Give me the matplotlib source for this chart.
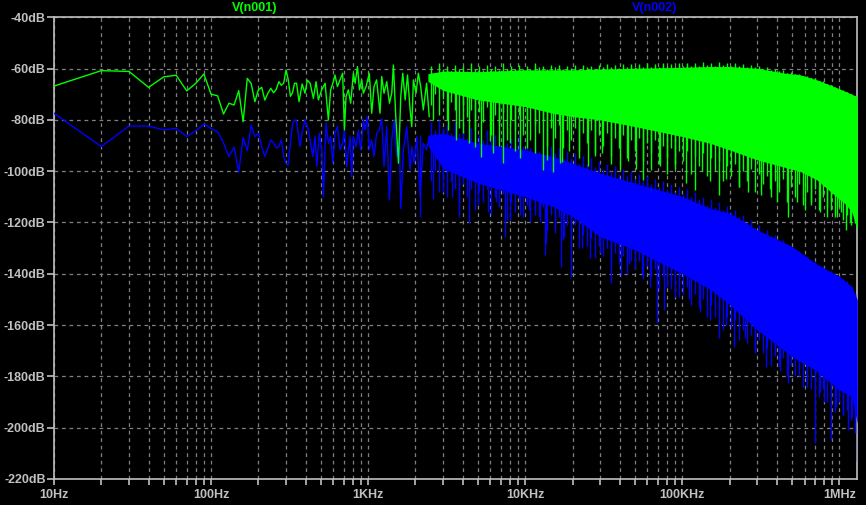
import numpy as np
import matplotlib
matplotlib.use("Agg")
import matplotlib.pyplot as plt
from matplotlib.ticker import FixedLocator, NullFormatter

# ---------------- data ----------------
# V(n001) (green) - individual trace points, low frequency part
g_line_f = [10, 20, 30, 40, 50, 60, 70, 80, 90, 100, 110, 120, 130, 140, 150, 160, 170, 180,
            190, 200, 210, 220, 230, 240, 250, 260, 270, 280, 290, 300, 310, 320, 330, 340,
            350, 363, 380, 396, 410,
            427, 448, 466, 482, 506, 532, 558, 577, 600, 615, 637, 662, 688, 706, 723, 748,
            774, 805, 826, 855, 880, 910, 932, 970, 1017, 1053, 1090, 1132, 1190, 1220, 1262,
            1313, 1366, 1413, 1448, 1499, 1559, 1613, 1661, 1720, 1780, 1850, 1895, 1941,
            2017, 2087, 2159, 2244, 2355, 2448]
g_line_db = [-66.8, -60.8, -61.1, -67.3, -63.2, -62.6, -68.7, -65.7, -62.1, -70.0, -70.6, -77.7,
             -73.5, -74.2, -68.6, -80.7, -63.8, -65.8, -72.9, -68.3, -67.3, -72.3, -69.6, -67.7,
             -69.4, -68.1, -65.1, -66.5, -65.7, -60.5, -64.4, -70.8, -69.4, -65.7,
             -65.7, -72.9, -66.0, -69.6, -64.5,
             -65.7, -71.6, -65.1, -72.2, -68.3, -65.7, -80.0, -68.3, -65.1, -62.5, -67.0, -64.4,
             -61.8, -83.9, -70.9, -68.3, -73.5, -61.8, -65.7, -59.2, -68.3, -64.4, -69.6, -67.0,
             -61.8, -77.4, -67.0, -64.4, -77.4, -63.1, -69.6, -65.1, -73.5, -69.6, -58.6, -78.7,
             -96.9, -70.9, -61.8, -72.2, -62.5, -76.1, -82.6, -64.4, -69.6, -61.8, -67.0, -76.1,
             -65.7, -78.7]

# V(n002) (blue) - individual trace points, low frequency part
b_line_f = [10, 20, 30, 40, 50, 60, 70, 80, 90, 100, 110, 120, 130, 140, 150, 160, 170, 180,
            190, 200, 210, 220, 230, 240, 250, 260, 270, 280, 290, 300, 310, 320, 330, 340,
            350, 368, 380, 396, 416,
            427, 444, 459, 471, 489, 506, 519, 539, 558, 577, 595, 615, 637, 662, 688, 706, 731,
            749, 767, 786, 805, 838, 866, 897, 932, 956, 989, 1017, 1053, 1090, 1132, 1178,
            1220, 1262, 1313, 1366, 1413, 1463, 1520, 1580, 1613, 1677, 1760, 1850, 1895, 1963,
            2041, 2141, 2244, 2355, 2448]
b_line_db = [-77.4, -90.4, -82.4, -82.4, -83.9, -83.3, -86.5, -84.2, -81.6, -83.3, -84.6, -89.0,
             -94.3, -90.6, -100.5, -86.8, -92.0, -82.0, -86.5, -85.2, -90.4, -94.3, -91.0, -87.8,
             -89.0, -91.0, -90.4, -87.8, -94.3, -97.0, -97.6, -89.0, -81.6, -80.0,
             -80.4, -90.4, -85.0, -80.0, -83.9,
             -87.8, -94.3, -86.5, -98.2, -85.2, -91.7, -109.9, -81.3, -89.1, -86.5, -96.9, -85.2,
             -82.6, -91.7, -89.1, -83.9, -98.2, -91.7, -86.5, -102.1, -86.5, -90.4, -83.9, -91.7,
             -80.0, -83.9, -78.7, -91.7, -87.8, -94.3, -85.2, -83.9, -79.4, -98.2, -82.6, -111.2,
             -87.8, -80.0, -94.3, -86.5, -114.5, -91.7, -82.6, -99.5, -90.4, -96.9, -86.5, -109.9,
             -89.1, -91.7, -86.5]

# dense high-frequency part: top edge and lower edge of the solid band
g_band_f = [2.4e3, 3e3, 5e3, 1e4, 1.5e4, 2e4, 3e4, 5e4, 1e5, 1.5e5, 2e5, 3e5, 4.5e5, 5.6e5,
            7.2e5, 9.2e5, 1.1e6, 1.2e6, 1.3e6]
g_band_top = [-62.0, -61.0, -61.2, -60.5, -60.5, -60.5, -60.2, -59.9, -59.5, -59.2, -59.2, -59.9,
              -61.8, -62.4, -64.4, -67.0, -69.0, -70.0, -71.0]
g_band_low = [-65.0, -68.5, -72.2, -74.8, -77.4, -78.7, -80.0, -82.6, -86.5, -89.1, -91.7, -95.6,
              -98.5, -100.0, -103.4, -109.0, -113.0, -116.0, -123.0]

b_band_f = [2.4e3, 3e3, 5e3, 1e4, 1.5e4, 2e4, 3e4, 5e4, 1e5, 1.5e5, 2e5, 3e5, 5e5, 7e5, 1e6,
            1.2e6, 1.3e6]
b_band_top = [-86.0, -85.2, -89.1, -91.7, -94.3, -96.9, -100.8, -104.7, -109.9, -114.5, -116.4,
              -122.9, -129.4, -135.9, -141.1, -145.0, -150.2]
b_band_low = [-90.0, -99.0, -104.7, -110.0, -113.8, -117.7, -125.5, -130.7, -140.0, -146.0,
              -152.0, -161.9, -172.3, -177.5, -185.3, -187.9, -198.3]

# deep downward spikes below the dense band
g_spike_f = [2.6e3, 3.2e3, 3.6e3, 4.04e3, 4.4e3, 4.8e3, 5.2e3, 6.0e3, 6.2e3, 6.8e3, 7.2e3, 8.0e3,
             8.6e3, 9.2e3, 1.03e4, 1.15e4, 1.3e4, 1.38e4, 1.5e4, 1.67e4, 1.71e4, 1.9e4, 2.2e4,
             2.5e4, 2.8e4, 3.08e4, 3.5e4, 4.0e4, 4.5e4, 5.1e4, 5.65e4, 6.3e4, 7.25e4, 8.0e4,
             9.0e4, 1.06e5, 1.2e5, 1.33e5, 1.5e5, 1.71e5, 1.9e5, 2.3e5, 2.6e5, 3.16e5, 3.6e5,
             4.0e5, 4.7e5, 5.4e5, 6.0e5, 6.6e5, 7.5e5, 8.3e5, 8.8e5, 9.6e5, 1.02e6, 1.1e6,
             1.17e6, 1.25e6]
g_spike_db = [-80, -84, -88, -85.2, -89, -90.4, -94.3, -88, -93, -90, -96.9, -89, -92, -95, -91,
              -93, -99.5, -95.6, -100.2, -96.9, -96.3, -92, -95, -98, -94, -93, -97, -99, -96,
              -99, -103.4, -99.5, -98, -101, -97, -104.7, -107.3, -100, -104, -109.3, -103, -106,
              -108, -109.3, -107, -112, -117.7, -112, -115, -113, -116, -117.7, -115, -118, -116,
              -123, -120, -118]

b_spike_f = [2.14e3, 2.6e3, 3.0e3, 3.4e3, 3.8e3, 4.4e3, 5.0e3, 5.8e3, 6.5e3, 7.4e3, 8.0e3, 9.3e3,
             1.05e4, 1.15e4, 1.25e4, 1.34e4, 1.36e4, 1.55e4, 1.7e4, 1.77e4, 1.95e4, 2.3e4, 2.6e4,
             3.0e4, 3.5e4, 4.1e4, 4.6e4, 5.5e4, 6.2e4, 6.9e4, 7.7e4, 8.5e4, 9.5e4, 1.1e5, 1.3e5,
             1.5e5, 1.71e5, 1.9e5, 2.13e5, 2.5e5, 2.9e5, 3.4e5, 3.9e5, 4.2e5, 4.7e5, 5.5e5,
             6.2e5, 7.0e5, 7.5e5, 8.0e5, 8.8e5, 9.5e5, 1.05e6, 1.14e6, 1.2e6, 1.29e6]
b_spike_db = [-117.7, -111, -108, -110, -117.7, -120.3, -113, -116, -112, -125.5, -119, -117,
              -115, -117, -120, -132.7, -128.1, -124, -137.2, -125.5, -141.1, -130, -134, -132,
              -143.7, -141, -136, -140, -145, -159.3, -154, -146, -149, -150, -155, -158, -165.1,
              -160, -168.4, -165, -170, -176.2, -172, -178, -182.7, -180, -184, -206.1, -186,
              -190, -204.8, -192, -195, -200.9, -196, -213]

# hair-like texture: frequencies (kHz) of the short lines along the band edges
tex_f_khz = [2.5, 2.65, 2.81, 2.98, 3.16, 3.35, 3.55, 3.77, 4.0, 4.24, 4.5, 4.77, 5.06, 5.36,
             5.69, 6.03, 6.4, 6.78, 7.19, 7.63, 8.09, 8.58, 9.1, 9.65, 10.2, 10.8, 11.5, 12.2,
             12.9, 13.7, 14.5, 15.4, 16.3, 17.3, 18.4, 19.5, 20.6, 21.9, 23.2, 24.6, 26.1, 27.7,
             29.4, 31.1, 33.0, 35.0, 37.1, 39.4, 41.8, 44.3, 47.0, 49.8, 52.8, 56.0, 59.4, 63.0,
             66.8, 70.8, 75.1, 79.6, 84.5, 89.6, 95.0, 100.7, 106.8, 113, 120, 127, 135, 143,
             152, 161, 171, 181, 192, 204, 216, 229, 243, 258, 273, 290, 307, 326, 346, 366,
             389, 412, 437, 463, 491, 521, 553, 586, 621, 659, 699, 741, 786, 833, 884, 937,
             994, 1054, 1118, 1185, 1257]
g_tex_low = [-74, -70, -78, -72, -80, -73, -76, -83, -74, -79, -76, -84, -77, -81, -75, -86, -78,
             -82, -77, -88, -80, -84, -78, -86, -80, -88, -82, -85, -80, -90, -83, -87, -82, -91,
             -84, -88, -83, -92, -85, -89, -84, -93, -86, -90, -85, -94, -87, -91, -86, -95, -88,
             -92, -87, -96, -89, -93, -88, -97, -90, -95, -91, -99, -92, -96, -92, -101, -94,
             -98, -93, -102, -95, -100, -96, -104, -98, -102, -97, -106, -100, -104, -99, -108,
             -101, -105, -102, -110, -104, -108, -103, -112, -106, -110, -105, -113, -108, -112,
             -107, -115, -110, -114, -112, -118, -114, -119, -117, -121, -120]
g_tex_top = [-59, -62, -58, -60, -59, -61, -58.5, -60, -59, -61, -58, -60, -59, -60.5, -58.5, -60,
             -59, -60.5, -58, -60, -59, -60, -58.5, -60, -59, -60, -58, -59.5, -58.8, -60, -58.5,
             -59.5, -58.5, -60, -59, -59.8, -58.7, -60, -58.5, -59.5, -58.8, -60, -58.5, -59.5,
             -58.3, -59.5, -58.5, -59.8, -58.4, -59.5, -58.2, -59.3, -58.3, -59.5, -58.0, -59.2,
             -58.3, -59.5, -58.0, -59.0, -58.2, -59.3, -57.8, -59.0, -58.0, -59.0, -57.8, -58.8,
             -57.6, -58.6, -57.8, -58.8, -57.5, -58.6, -57.8, -58.8, -57.9, -59.0, -58.3, -59.2,
             -58.6, -59.5, -58.8, -60.0, -59.5, -60.5, -60.0, -61.0, -60.6, -61.6, -61.3, -62.2,
             -62.0, -63.0, -62.8, -63.8, -63.8, -65.0, -65.0, -66.0, -66.3, -67.5, -67.8, -68.8,
             -69.0, -70.0, -70.5]
b_tex_low = [-104, -100, -108, -103, -110, -104, -107, -113, -105, -110, -107, -115, -108, -112,
             -107, -117, -110, -114, -109, -119, -112, -116, -111, -118, -113, -120, -115, -118,
             -114, -123, -117, -121, -118, -127, -121, -125, -121, -130, -125, -129, -126, -134,
             -129, -133, -130, -137, -132, -136, -133, -140, -135, -138, -135, -142, -137, -141,
             -138, -146, -141, -145, -142, -149, -144, -148, -145, -152, -148, -153, -150, -157,
             -152, -157, -154, -162, -157, -161, -158, -166, -162, -167, -164, -171, -166, -171,
             -169, -176, -171, -176, -173, -180, -176, -180, -177, -184, -180, -185, -182, -188,
             -185, -190, -188, -194, -190, -195, -193, -197, -202]
b_tex_top = [-81, -84, -80, -83, -82, -85, -81, -85, -84, -87, -83, -87, -86, -88, -84, -88, -86,
             -89, -85, -89, -87, -90, -86, -90, -88, -91, -88, -92, -90, -93, -90, -93, -91, -95,
             -92, -95, -93, -97, -94, -97, -95, -98.5, -96, -99, -97, -100, -98, -101, -99, -102,
             -100, -103, -101, -104, -102, -105, -103, -106, -104, -107, -105, -108, -106, -109,
             -107, -110, -108, -111, -110, -113, -111, -114, -112, -115, -113.5, -116, -115, -118,
             -117, -120, -119, -122, -121, -124, -123, -126, -125, -128, -127, -130, -129, -132,
             -131, -134, -133, -136, -135, -138, -137, -140, -139, -142, -141, -144, -143, -147,
             -148]

y_ticks = [-40, -60, -80, -100, -120, -140, -160, -180, -200, -220]
x_ticks = [10, 100, 1e3, 1e4, 1e5, 1e6]
x_tick_labels = ["10Hz", "100Hz", "1KHz", "10KHz", "100KHz", "1MHz"]

# ---------------- figure ----------------
W, H = 866, 505
fig = plt.figure(figsize=(W / 100, H / 100), dpi=100, facecolor="#000000")
ax = fig.add_axes([54 / W, (H - 479) / H, (857.3 - 54) / W, (479 - 17.3) / H])
ax.set_facecolor("#000000")
ax.set_xscale("log")
ax.set_xlim(10, 1.3e6)
ax.set_ylim(-220, -40)

GREEN = "#00ff00"
BLUE = "#0000ff"
LW = 1.0
tex_f = np.array(tex_f_khz) * 1e3


def draw_series(line_f, line_db, band_f, band_top, band_low, spike_f, spike_db,
                tex_low, tex_top, color, z):
    ax.plot(line_f, line_db, color=color, lw=LW, zorder=z)
    ax.fill_between(band_f, band_low, band_top, color=color, lw=0, zorder=z)
    lf = np.log10(band_f)
    tops = np.interp(np.log10(spike_f), lf, band_top)
    ax.vlines(spike_f, spike_db, tops, color=color, lw=LW, zorder=z)
    mids = np.interp(np.log10(tex_f), lf, band_top)
    ax.vlines(tex_f, tex_low, mids, color=color, lw=LW, zorder=z)
    lows = np.interp(np.log10(tex_f), lf, band_low)
    ax.vlines(tex_f, lows, tex_top, color=color, lw=LW, zorder=z)


draw_series(b_line_f, b_line_db, b_band_f, b_band_top, b_band_low, b_spike_f, b_spike_db,
            b_tex_low, b_tex_top, BLUE, 3)
draw_series(g_line_f, g_line_db, g_band_f, g_band_top, g_band_low, g_spike_f, g_spike_db,
            g_tex_low, g_tex_top, GREEN, 4)

# ---------------- axes styling ----------------
GRAY = "#c0c0c0"
GRID = "#808080"
for s in ax.spines.values():
    s.set_color(GRAY)
    s.set_linewidth(1.2)

ax.yaxis.set_major_locator(FixedLocator(y_ticks))
ax.set_yticklabels([f"{v}dB" for v in y_ticks])
ax.xaxis.set_major_locator(FixedLocator(x_ticks))
ax.set_xticklabels(x_tick_labels)
minors = [m * 10 ** d for d in range(1, 7) for m in range(2, 10) if m * 10 ** d < 1.3e6]
ax.xaxis.set_minor_locator(FixedLocator(minors))
ax.xaxis.set_minor_formatter(NullFormatter())

ax.tick_params(axis="y", which="major", direction="out", length=5, width=1.2, color=GRAY,
               labelcolor=GRAY, labelsize=9, pad=1)
ax.tick_params(axis="x", which="both", direction="out", length=4, width=1.2, color=GRAY,
               labelcolor=GRAY, labelsize=9, pad=3)
for lab in ax.get_xticklabels() + ax.get_yticklabels():
    lab.set_fontfamily("Liberation Sans")
    lab.set_fontweight("bold")

ax.set_axisbelow(True)
ax.grid(True, which="both", axis="x", color=GRID, ls=(0, (3, 3)), lw=0.9)
ax.grid(True, which="major", axis="y", color=GRID, ls=(0, (3, 3)), lw=0.9)

fig.text(255 / W, 1 - 8 / H, "V(n001)", color=GREEN, ha="center", va="center",
         fontsize=9, fontweight="bold", family="Liberation Sans")
fig.text(655 / W, 1 - 8 / H, "V(n002)", color=BLUE, ha="center", va="center",
         fontsize=9, fontweight="bold", family="Liberation Sans")

fig.savefig("out.png", dpi=100, facecolor="#000000")
